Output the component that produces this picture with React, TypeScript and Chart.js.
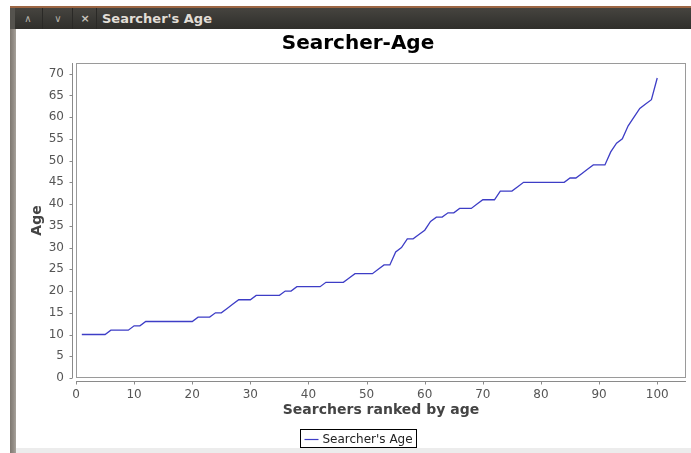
import React, { useEffect, useRef } from "react";
import { Chart, registerables } from "chart.js";

Chart.register(...registerables);

const chartTitle = "Searcher-Age";
const windowTitle = "Searcher's Age";
const seriesName = "Searcher's Age";
const xAxisTitle = "Searchers ranked by age";
const yAxisTitle = "Age";

const ranks = [
  1, 2, 3, 4, 5, 6, 7, 8, 9, 10, 11, 12, 13, 14, 15, 16, 17, 18, 19, 20,
  21, 22, 23, 24, 25, 26, 27, 28, 29, 30, 31, 32, 33, 34, 35, 36, 37, 38, 39, 40,
  41, 42, 43, 44, 45, 46, 47, 48, 49, 50, 51, 52, 53, 54, 55, 56, 57, 58, 59, 60,
  61, 62, 63, 64, 65, 66, 67, 68, 69, 70, 71, 72, 73, 74, 75, 76, 77, 78, 79, 80,
  81, 82, 83, 84, 85, 86, 87, 88, 89, 90, 91, 92, 93, 94, 95, 96, 97, 98, 99, 100,
];

const ages = [
  10, 10, 10, 10, 10, 11, 11, 11, 11, 12, 12, 13, 13, 13, 13, 13, 13, 13, 13, 13,
  14, 14, 14, 15, 15, 16, 17, 18, 18, 18, 19, 19, 19, 19, 19, 20, 20, 21, 21, 21,
  21, 21, 22, 22, 22, 22, 23, 24, 24, 24, 24, 25, 26, 26, 29, 30, 32, 32, 33, 34,
  36, 37, 37, 38, 38, 39, 39, 39, 40, 41, 41, 41, 43, 43, 43, 44, 45, 45, 45, 45,
  45, 45, 45, 45, 46, 46, 47, 48, 49, 49, 49, 52, 54, 55, 58, 60, 62, 63, 64, 69,
];

const xTickValues = [0, 10, 20, 30, 40, 50, 60, 70, 80, 90, 100];
const yTickValues = [0, 5, 10, 15, 20, 25, 30, 35, 40, 45, 50, 55, 60, 65, 70];

const xMin = 0;
const xMax = 104.95;
const yMin = 0;
const yMax = 72.45;

const FONT = "'DejaVu Sans', sans-serif";
const LINE_COLOR = "#3d3dc6";

const framePlugin = {
  id: "frame",
  beforeDatasetsDraw(chart: any) {
    const { ctx, chartArea } = chart;
    const { left, right, top, bottom } = chartArea;
    const xs = chart.scales.x;
    const ys = chart.scales.y;
    ctx.save();
    ctx.lineWidth = 1;
    ctx.strokeStyle = "#9a9a9a";
    ctx.strokeRect(Math.round(left) + 0.5, Math.round(top) + 0.5, Math.round(right - left) - 1, Math.round(bottom - top) - 1);
    ctx.strokeStyle = "#8a8a8a";
    const ax = Math.round(left) - 4 + 0.5;
    const ay = Math.round(bottom) + 3 + 0.5;
    ctx.beginPath();
    ctx.moveTo(ax, Math.round(top));
    ctx.lineTo(ax, Math.round(bottom));
    ctx.moveTo(Math.round(left), ay);
    ctx.lineTo(Math.round(right), ay);
    ys.ticks.forEach((t: any) => {
      const py = Math.round(ys.getPixelForValue(t.value)) + 0.5;
      ctx.moveTo(ax - 3, py);
      ctx.lineTo(ax, py);
    });
    xs.ticks.forEach((t: any) => {
      const px = Math.round(xs.getPixelForValue(t.value)) + 0.5;
      ctx.moveTo(px, ay);
      ctx.lineTo(px, ay + 3);
    });
    ctx.stroke();
    ctx.restore();
  },
  afterDraw(chart: any) {
    const { ctx, width } = chart;
    ctx.save();
    ctx.font = `bold 20px ${FONT}`;
    ctx.fillStyle = "#000000";
    ctx.textAlign = "center";
    ctx.textBaseline = "middle";
    ctx.fillText(chartTitle, width / 2, 15);
    ctx.font = `12px ${FONT}`;
    const tw = ctx.measureText(seriesName).width;
    const boxW = Math.round(4 + 14 + 4 + tw + 4);
    const boxH = 18;
    const bx = Math.round(width / 2 - boxW / 2) + 0.5;
    const by = 400.5;
    ctx.fillStyle = "#ffffff";
    ctx.fillRect(bx, by, boxW, boxH);
    ctx.strokeStyle = "#000000";
    ctx.lineWidth = 1;
    ctx.strokeRect(bx, by, boxW, boxH);
    const cy = Math.round(by + boxH / 2);
    ctx.strokeStyle = LINE_COLOR;
    ctx.lineWidth = 1.2;
    ctx.beginPath();
    ctx.moveTo(bx + 4, cy + 0.5);
    ctx.lineTo(bx + 18, cy + 0.5);
    ctx.stroke();
    ctx.fillStyle = "#222222";
    ctx.textBaseline = "middle";
    ctx.textAlign = "left";
    ctx.fillText(seriesName, bx + 22, cy + 1);
    ctx.restore();
  },
};

function ChartCanvas() {
  const ref = useRef<HTMLCanvasElement | null>(null);
  useEffect(() => {
    if (!ref.current) return;
    const chart = new Chart(ref.current, {
      type: "line",
      data: {
        datasets: [
          {
            label: seriesName,
            data: ranks.map((r, i) => ({ x: r, y: ages[i] })),
            borderColor: LINE_COLOR,
            backgroundColor: LINE_COLOR,
            borderWidth: 1.3,
            pointRadius: 0,
            tension: 0,
            fill: false,
          },
        ],
      },
      options: {
        responsive: false,
        animation: false,
        devicePixelRatio: 1,
        layout: { padding: { left: 0, right: 14, top: 34, bottom: 0 } },
        plugins: {
          legend: { display: false },
          tooltip: { enabled: false },
          title: { display: false },
        },
        scales: {
          x: {
            type: "linear",
            min: xMin,
            max: xMax,
            grid: { display: false },
            border: { display: false },
            afterBuildTicks: (s: any) => {
              s.ticks = xTickValues.map((v) => ({ value: v }));
            },
            afterFit: (s: any) => {
              s.height = 71;
            },
            ticks: {
              includeBounds: false,
              autoSkip: false,
              maxRotation: 0,
              padding: 2,
              color: "#555555",
              font: { family: FONT, size: 12 },
            },
            title: {
              display: true,
              text: xAxisTitle,
              color: "#444444",
              font: { family: FONT, size: 14, weight: "bold", lineHeight: 1.2 },
              padding: { top: 0, bottom: 30 },
            },
          },
          y: {
            type: "linear",
            min: yMin,
            max: yMax,
            grid: { display: false },
            border: { display: false },
            afterBuildTicks: (s: any) => {
              s.ticks = yTickValues.map((v) => ({ value: v }));
            },
            afterFit: (s: any) => {
              s.width = 60;
            },
            ticks: {
              includeBounds: false,
              autoSkip: false,
              padding: 4,
              color: "#555555",
              font: { family: FONT, size: 12 },
            },
            title: {
              display: true,
              text: yAxisTitle,
              color: "#444444",
              font: { family: FONT, size: 14, weight: "bold", lineHeight: 1.2 },
              padding: { top: 13, bottom: 0 },
            },
          },
        },
      },
      plugins: [framePlugin],
    } as any);
    return () => chart.destroy();
  }, []);
  return (
    <canvas
      ref={ref}
      width={684}
      height={420}
      style={{ position: "absolute", left: 16, top: 29, width: 684, height: 420 }}
    />
  );
}

export default function App() {
  return (
    <div
      style={{
        position: "fixed",
        left: 0,
        top: 0,
        width: 691,
        height: 453,
        overflow: "hidden",
        background: "#ffffff",
      }}
    >
      <div style={{ position: "absolute", left: 10, top: 6, width: 681, height: 2, background: "#9c6644" }} />
      <div
        style={{
          position: "absolute",
          left: 10,
          top: 8,
          width: 681,
          height: 21,
          background: "linear-gradient(#46443f, #3a3935 50%, #302f2b)",
        }}
      />
      <div style={{ position: "absolute", left: 10, top: 8, width: 5, height: 21, background: "#55534e" }} />
      <div style={{ position: "absolute", left: 42, top: 8, width: 1, height: 21, background: "#2a2926" }} />
      <div style={{ position: "absolute", left: 72, top: 8, width: 1, height: 21, background: "#2a2926" }} />
      <div style={{ position: "absolute", left: 96, top: 8, width: 1, height: 21, background: "#2a2926" }} />
      <div
        style={{
          position: "absolute",
          left: 20,
          top: 8,
          width: 16,
          height: 21,
          lineHeight: "21px",
          textAlign: "center",
          color: "#b5b1a9",
          fontFamily: FONT,
          fontSize: 10,
        }}
      >
        ∧
      </div>
      <div
        style={{
          position: "absolute",
          left: 50,
          top: 8,
          width: 16,
          height: 21,
          lineHeight: "21px",
          textAlign: "center",
          color: "#b5b1a9",
          fontFamily: FONT,
          fontSize: 10,
        }}
      >
        ∨
      </div>
      <div
        style={{
          position: "absolute",
          left: 77,
          top: 8,
          width: 16,
          height: 21,
          lineHeight: "21px",
          textAlign: "center",
          color: "#c8c4bc",
          fontFamily: FONT,
          fontSize: 11,
          fontWeight: "bold",
        }}
      >
        ×
      </div>
      <div
        style={{
          position: "absolute",
          left: 102,
          top: 8,
          height: 21,
          lineHeight: "21px",
          color: "#e2ded6",
          fontFamily: FONT,
          fontSize: 13,
          fontWeight: "bold",
          whiteSpace: "nowrap",
        }}
      >
        {windowTitle}
      </div>
      <div
        style={{
          position: "absolute",
          left: 10,
          top: 29,
          width: 6,
          height: 424,
          background: "linear-gradient(90deg, #7e7871, #948e87 60%, #a8a39c)",
        }}
      />
      <div style={{ position: "absolute", left: 16, top: 448, width: 675, height: 5, background: "#ececec" }} />
      <ChartCanvas />
    </div>
  );
}
